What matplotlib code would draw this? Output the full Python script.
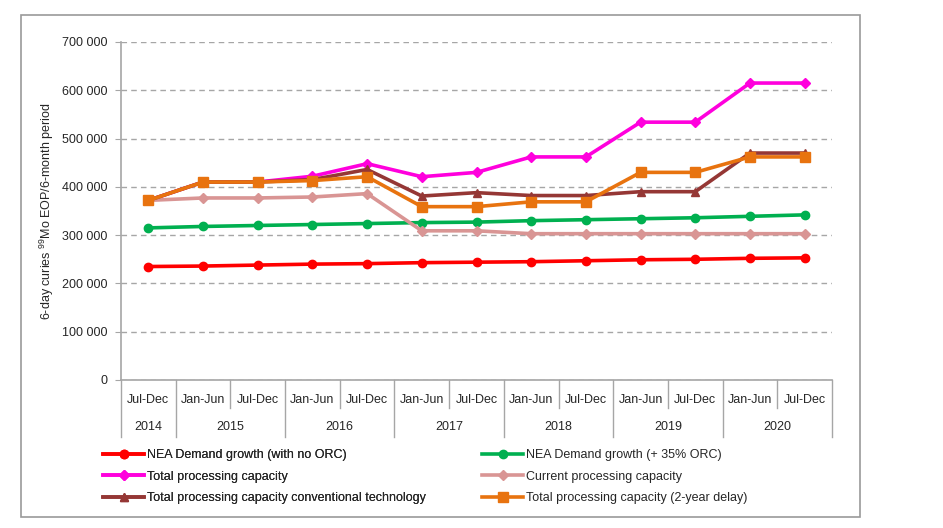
import matplotlib
matplotlib.use("Agg")
import matplotlib.pyplot as plt
import matplotlib.patches as patches
import numpy as np

plt.rcParams['font.family'] = ['Liberation Sans', 'DejaVu Sans']
plt.rcParams['mathtext.fontset'] = 'custom'
plt.rcParams['mathtext.rm'] = 'Liberation Sans'
plt.rcParams['mathtext.it'] = 'Liberation Sans'

# categories
halves = ["Jul-Dec", "Jan-Jun", "Jul-Dec", "Jan-Jun", "Jul-Dec", "Jan-Jun", "Jul-Dec",
          "Jan-Jun", "Jul-Dec", "Jan-Jun", "Jul-Dec", "Jan-Jun", "Jul-Dec"]
years = ["2014", "2015", "2016", "2017", "2018", "2019", "2020"]

# series values (6-day curies)
nea_no_orc = [235000, 236000, 238000, 240000, 241000, 243000, 244000, 245000, 247000, 249000, 250000, 252000, 253000]
nea_orc = [315000, 318000, 320000, 322000, 324000, 326000, 327000, 330000, 332000, 334000, 336000, 339000, 342000]
total_cap = [372000, 410000, 410000, 422000, 448000, 421000, 430000, 462000, 462000, 534000, 534000, 615000, 615000]
current_cap = [372000, 377000, 377000, 379000, 386000, 309000, 309000, 303000, 303000, 303000, 303000, 303000, 303000]
conv_cap = [372000, 410000, 410000, 415000, 436000, 381000, 388000, 382000, 382000, 390000, 390000, 470000, 470000]
delay_cap = [372000, 410000, 410000, 413000, 421000, 359000, 359000, 369000, 369000, 430000, 430000, 462000, 462000]

W, H = 943, 528
fig = plt.figure(figsize=(W / 100, H / 100), dpi=100)
ax = fig.add_axes([121 / W, 1 - 380 / H, (832 - 121) / W, (380 - 42) / H])

x = np.arange(len(halves))
grey = '#A6A6A6'
txt = '#262626'

series = [
    (nea_no_orc, '#FF0000', 'o', 6, "NEA Demand growth (with no ORC)"),
    (nea_orc, '#00B050', 'o', 6, "NEA Demand growth (+ 35% ORC)"),
    (total_cap, '#FF00DD', 'D', 5, "Total processing capacity"),
    (current_cap, '#D99594', 'D', 5, "Current processing capacity"),
    (conv_cap, '#953735', '^', 6, "Total processing capacity conventional technology"),
    (delay_cap, '#E8730F', 's', 7, "Total processing capacity (2-year delay)"),
]
handles = []
for vals, col, mk, ms, lab in series:
    h, = ax.plot(x, vals, color=col, lw=2.6, marker=mk, ms=ms, label=lab, clip_on=False)
    handles.append(h)

ax.set_xlim(-0.5, len(halves) - 0.5)
ax.set_ylim(0, 700000)
ax.set_yticks(np.arange(0, 700001, 100000))
ax.set_yticklabels([f"{v:,}".replace(",", " ") for v in range(0, 700001, 100000)], fontsize=9, color=txt)
ax.tick_params(axis='y', length=4, color=grey, pad=6)
ax.set_xticks([])
ax.yaxis.grid(True, linestyle=(0, (4, 3)), color=grey, lw=1)
ax.set_axisbelow(True)
for s in ['top', 'right']:
    ax.spines[s].set_visible(False)
for s in ['left', 'bottom']:
    ax.spines[s].set_color(grey)
    ax.spines[s].set_linewidth(1.2)

ax.set_ylabel(r"6-day curies $^{99}$Mo EOP/6-month period", fontsize=9, color=txt, labelpad=4)

# category axis: half-year row and year row
tr = ax.get_xaxis_transform()
for i, lab in enumerate(halves):
    ax.text(i, -0.058, lab, transform=tr, ha='center', va='center', fontsize=9, color=txt)
year_spans = [(0, 0)] + [(1 + 2 * k, 2 + 2 * k) for k in range(6)]
for yr, (a, b) in zip(years, year_spans):
    ax.text((a + b) / 2, -0.138, yr, transform=tr, ha='center', va='center', fontsize=9, color=txt)
for i in range(len(halves) + 1):
    b = i - 0.5
    full = (i == 0 or i == len(halves) or i % 2 == 1)
    bottom = -0.169 if full else -0.083
    ax.plot([b, b], [0, bottom], transform=tr, color=grey, lw=1, clip_on=False)

# legend in two columns
leg_kw = dict(loc='upper left', frameon=False, fontsize=9, handlelength=3.3, handletextpad=0.2,
              labelspacing=0.78, borderpad=0, borderaxespad=0, numpoints=1, labelcolor=txt)
leg1 = fig.legend(handles[0::2], [h.get_label() for h in handles[0::2]],
                  bbox_to_anchor=(103 / W, 1 - 449 / H), **leg_kw)
leg2 = fig.legend(handles[1::2], [h.get_label() for h in handles[1::2]],
                  bbox_to_anchor=(482 / W, 1 - 449 / H), **leg_kw)
fig.add_artist(leg1)

# outer chart frame
fig.add_artist(patches.Rectangle((21 / W, 1 - 517 / H), (860 - 21) / W, (517 - 15) / H,
                                 transform=fig.transFigure, fill=False, edgecolor='#9A9A9A', lw=1.2))

fig.savefig("out.png", dpi=100)
